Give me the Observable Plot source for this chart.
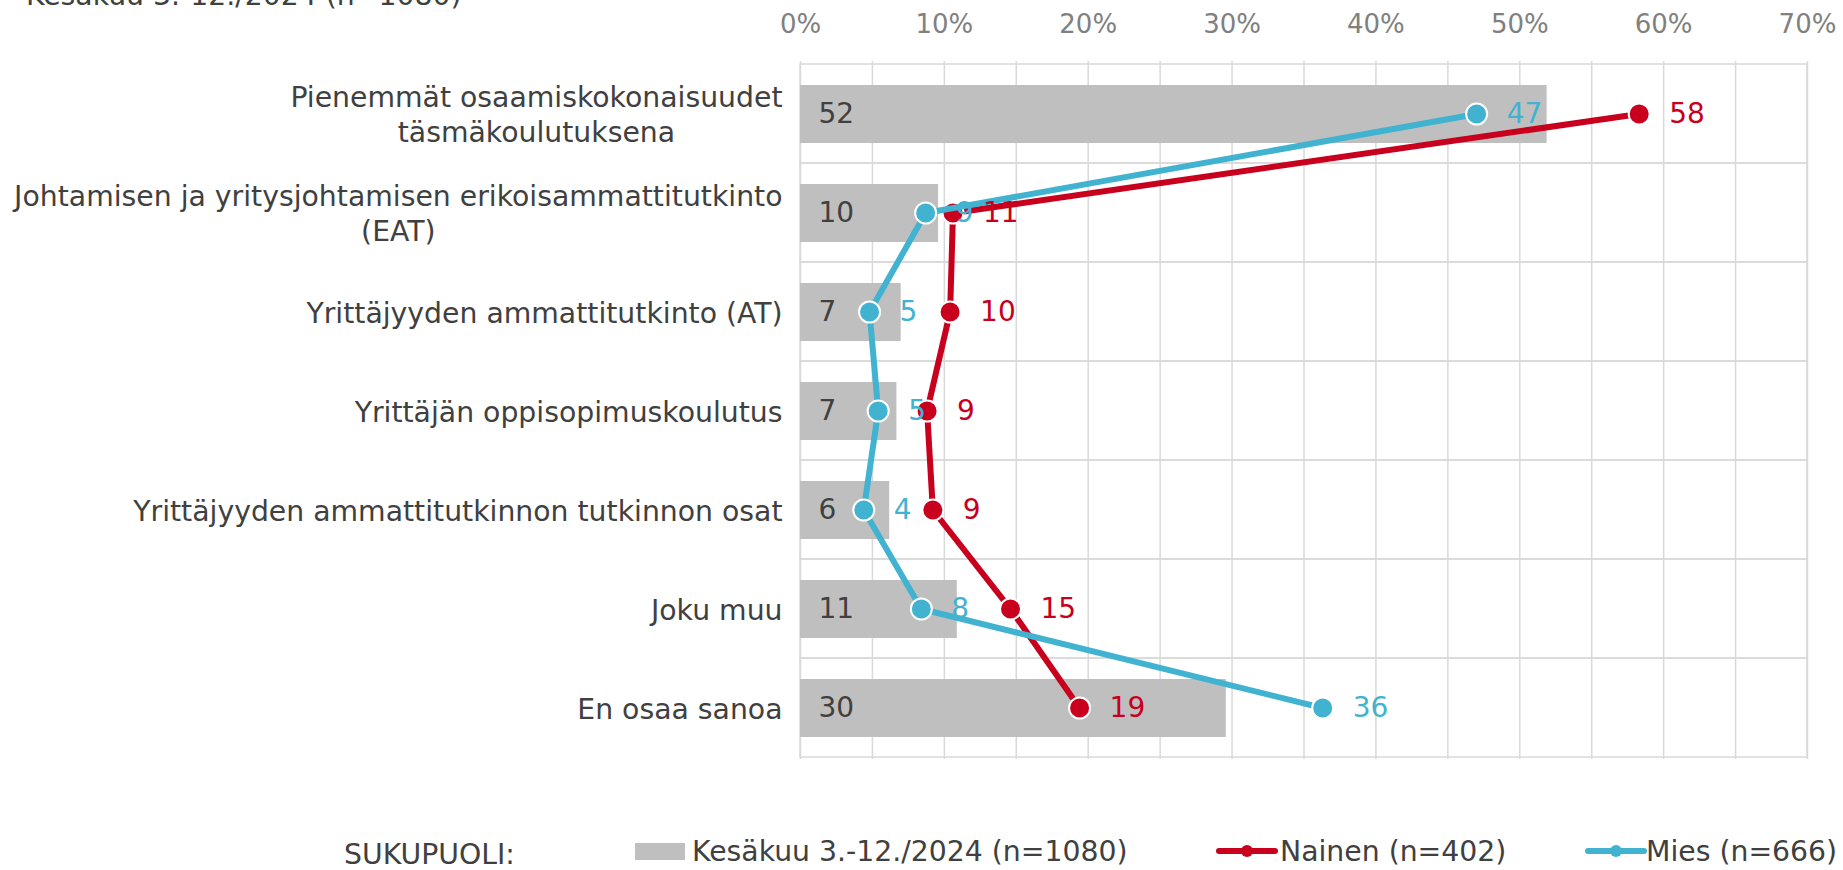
<!DOCTYPE html>
<html>
<head>
<meta charset="utf-8">
<script src="https://cdn.jsdelivr.net/npm/d3@7"></script>
<script src="https://cdn.jsdelivr.net/npm/@observablehq/plot@0.6"></script>
<style>
  body { margin: 0; background: #fff; font-family: 'DejaVu Sans'; }
  #wrap { position: relative; width: 1843px; height: 870px; overflow: hidden; }
  #chart { position: absolute; left: 0; top: 0; }
  .t { position: absolute; font-size: 28.3px; line-height: 28px; color: #404040; white-space: nowrap; }
  .sw { position: absolute; }
</style>
</head>
<body>
<div id="wrap">
  <div id="chart"></div>
  <div class="t" style="left:26px;top:-18px">Kesäkuu 3.-12./2024 (n=1080)</div>
  <div class="t" style="left:344px;top:841px">SUKUPUOLI:</div>
  <div class="sw" style="left:635px;top:843px;width:50px;height:17px;background:#bfbfbf"></div>
  <div class="t" style="left:692px;top:838px">Kesäkuu 3.-12./2024 (n=1080)</div>
  <svg class="sw" style="left:1216px;top:841px" width="62" height="20">
    <line x1="3" x2="59" y1="10" y2="10" stroke="#c8001e" stroke-width="6" stroke-linecap="round"/>
    <circle cx="31" cy="10" r="6" fill="#c8001e"/>
  </svg>
  <div class="t" style="left:1280px;top:838px">Nainen (n=402)</div>
  <svg class="sw" style="left:1585px;top:841px" width="62" height="20">
    <line x1="3" x2="59" y1="10" y2="10" stroke="#41b3d0" stroke-width="6" stroke-linecap="round"/>
    <circle cx="31" cy="10" r="6" fill="#41b3d0"/>
  </svg>
  <div class="t" style="left:1646px;top:838px">Mies (n=666)</div>
</div>
<script>
const categories = [
  "Pienemmät osaamiskokonaisuudet\ntäsmäkoulutuksena",
  "Johtamisen ja yritysjohtamisen erikoisammattitutkinto\n(EAT)",
  "Yrittäjyyden ammattitutkinto (AT)",
  "Yrittäjän oppisopimuskoulutus",
  "Yrittäjyyden ammattitutkinnon tutkinnon osat",
  "Joku muu",
  "En osaa sanoa"
];
const totalValues = [51.9, 9.6, 7.0, 6.7, 6.2, 10.9, 29.6];
const nainenValues = [58.3, 10.6, 10.4, 8.8, 9.2, 14.6, 19.4];
const miesValues = [47.0, 8.7, 4.8, 5.4, 4.4, 8.4, 36.3];
const xTicks = [0, 10, 20, 30, 40, 50, 60, 70];
const gridTicks = [0, 5, 10, 15, 20, 25, 30, 35, 40, 45, 50, 55, 60, 65, 70];

const RED = "#c8001e";
const CYAN = "#41b3d0";
const TXT = "#404040";
const LABEL_SIZE = 28.3;

const rows = categories.map((c, i) => ({
  cat: c, total: totalValues[i], nainen: nainenValues[i], mies: miesValues[i]
}));

const ctx = document.createElement("canvas").getContext("2d");
ctx.font = LABEL_SIZE + "px 'DejaVu Sans'";
const labelMarks = categories.map(c => {
  const lines = c.split("\n");
  const w = d3.max(lines, l => ctx.measureText(l).width);
  return Plot.text([c], {
    x: 0, y: d => d, text: d => d, textAnchor: "middle",
    dx: -18 - w / 2, dy: lines.length > 1 ? -1 : 0,
    lineHeight: 1.24, fill: TXT, fontSize: LABEL_SIZE
  });
});

const chart = Plot.plot({
  width: 1843,
  height: 800,
  marginTop: 61,
  marginBottom: 41,
  marginLeft: 800,
  marginRight: 36,
  x: { domain: [0, 70], axis: null },
  y: { domain: categories, padding: 0, axis: null },
  style: { fontFamily: "DejaVu Sans", fontSize: "28px", color: TXT, background: "transparent" },
  marks: [
    Plot.ruleX(gridTicks, { stroke: "#d9d9d9", strokeWidth: 1.5 }),
    Plot.barX(rows, { y: "cat", x1: 0, x2: 70, fill: "none", stroke: "#d9d9d9", strokeWidth: 1.5 }),
    Plot.barX(rows, { y: "cat", x: "total", fill: "#bfbfbf", insetTop: 21, insetBottom: 20 }),
    Plot.axisX(xTicks, { anchor: "top", tickSize: 0, tickPadding: 29, tickFormat: d => d + "%", fill: "#808080", fontSize: 26 }),
    Plot.text(rows, { y: "cat", x: 0, text: d => Math.round(d.total), textAnchor: "start", dx: 18, fill: TXT, fontSize: 28 }),
    Plot.line(rows, { x: "nainen", y: "cat", stroke: RED, strokeWidth: 6 }),
    Plot.dot(rows, { x: "nainen", y: "cat", r: 10.5, fill: RED, stroke: "white", strokeWidth: 2 }),
    Plot.line(rows, { x: "mies", y: "cat", stroke: CYAN, strokeWidth: 6 }),
    Plot.dot(rows, { x: "mies", y: "cat", r: 10.5, fill: CYAN, stroke: "white", strokeWidth: 2 }),
    Plot.text(rows, { y: "cat", x: "nainen", text: d => Math.round(d.nainen), textAnchor: "start", dx: 30, fill: RED, fontSize: 28 }),
    Plot.text(rows, { y: "cat", x: "mies", text: d => Math.round(d.mies), textAnchor: "start", dx: 30, fill: CYAN, fontSize: 28 }),
    ...labelMarks
  ]
});
document.getElementById("chart").appendChild(chart);
</script>
</body>
</html>
